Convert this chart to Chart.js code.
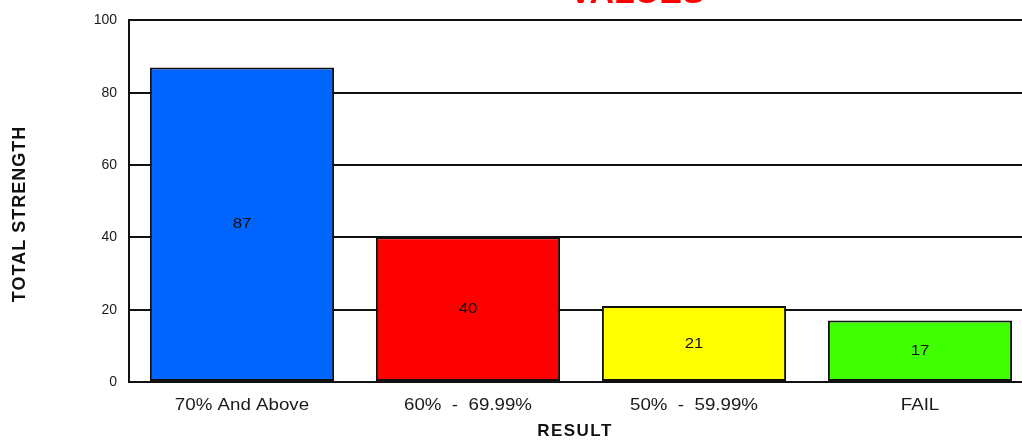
<!DOCTYPE html>
<html>
<head>
<meta charset="utf-8">
<script src="https://cdn.jsdelivr.net/npm/chart.js@4.4.1/dist/chart.umd.min.js"></script>
<style>
  html, body { margin: 0; padding: 0; background: #fff; overflow: hidden; }
  #wrap { position: relative; width: 1040px; height: 443px; }
</style>
</head>
<body>
<div id="wrap"><canvas id="c"></canvas></div>
<script>
const categories = ["70% And Above", "60%  -  69.99%", "50%  -  59.99%", "FAIL"];
const values = [87, 40, 21, 17];
const barColors = ["#0064FF", "#FF0000", "#FFFF00", "#40FF00"];
const yTicks = [0, 20, 40, 60, 80, 100];
const chartTitle = "VALUES";
const xTitle = "RESULT";
const yTitle = "TOTAL STRENGTH";

const FONT = "'Liberation Sans', Arial, sans-serif";

const decor = {
  id: 'decor',
  afterDatasetsDraw(chart) {
    const ctx = chart.ctx;
    const meta = chart.getDatasetMeta(0);
    ctx.save();
    ctx.fillStyle = '#111';
    ctx.font = '15px ' + FONT;
    ctx.textAlign = 'center';
    ctx.textBaseline = 'middle';
    meta.data.forEach((bar, i) => {
      const p = bar.getProps(['x', 'y', 'base'], true);
      ctx.save();
      ctx.translate(p.x, (p.y + p.base) / 2);
      ctx.scale(1.12, 1);
      ctx.fillText(String(values[i]), 0, 0);
      ctx.restore();
    });
    ctx.restore();
  },
  afterDraw(chart) {
    const ctx = chart.ctx;
    const xs = chart.scales.x;
    ctx.save();
    // x category labels (slightly stretched like the reference)
    ctx.fillStyle = '#1a1a1a';
    ctx.font = '16px ' + FONT;
    ctx.textAlign = 'center';
    ctx.textBaseline = 'middle';
    categories.forEach((c, i) => {
      ctx.save();
      ctx.translate(xs.getPixelForTick(i), 406);
      ctx.scale(1.17, 1);
      ctx.fillText(c, 0, 0);
      ctx.restore();
    });
    // main title (cut off at top)
    ctx.fillStyle = '#FF0000';
    ctx.font = 'bold 34px ' + FONT;
    ctx.textBaseline = 'alphabetic';
    ctx.fillText(chartTitle, 637, 3);
    // x title
    ctx.fillStyle = '#111';
    ctx.font = 'bold 17px ' + FONT;
    ctx.textBaseline = 'middle';
    ctx.letterSpacing = '1.5px';
    ctx.fillText(xTitle, 575, 431);
    // y title
    ctx.letterSpacing = '1px';
    ctx.translate(20, 214);
    ctx.rotate(-Math.PI / 2);
    ctx.font = 'bold 18px ' + FONT;
    ctx.fillText(yTitle, 0, 0);
    ctx.restore();
  }
};

new Chart(document.getElementById('c'), {
  type: 'bar',
  data: {
    labels: categories,
    datasets: [{
      data: values,
      backgroundColor: barColors,
      borderColor: '#111',
      borderWidth: 2,
      borderSkipped: false,
      barPercentage: 0.815,
      categoryPercentage: 1.0
    }]
  },
  options: {
    responsive: true,
    maintainAspectRatio: false,
    animation: false,
    devicePixelRatio: 1,
    layout: { padding: { top: 19, right: 7, bottom: 0, left: 0 } },
    plugins: { legend: { display: false }, tooltip: { enabled: false }, title: { display: false } },
    scales: {
      x: {
        grid: { display: false, drawTicks: false },
        border: { display: true, color: '#111', width: 2 },
        ticks: { display: false },
        afterFit(s) { s.height = 61; }
      },
      y: {
        min: 0, max: 100,
        grid: { color: '#111', lineWidth: 2, drawTicks: false },
        border: { display: true, color: '#111', width: 2 },
        afterBuildTicks(s) { s.ticks = yTicks.map(v => ({ value: v })); },
        ticks: { color: '#1a1a1a', font: { family: FONT, size: 14 }, padding: 12 },
        afterFit(s) { s.width = 129; }
      }
    }
  },
  plugins: [decor]
});
</script>
</body>
</html>
